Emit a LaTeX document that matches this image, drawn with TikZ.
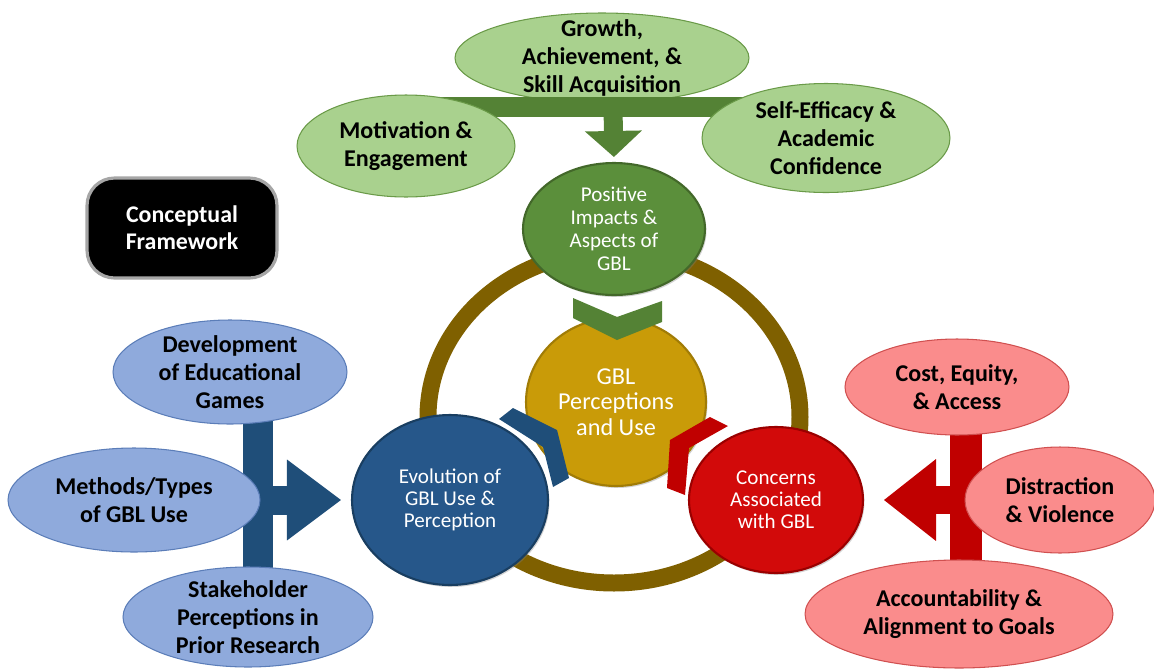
\documentclass[tikz,border=0pt]{standalone}
\usepackage{fontspec}
\setmainfont{Carlito}
\usetikzlibrary{arrows.meta,shapes.geometric,shadows}
\definecolor{gLight}{HTML}{A9D18E}
\definecolor{gLine}{HTML}{6A9A48}
\definecolor{gDark}{HTML}{548235}
\definecolor{gHub}{HTML}{5B8F3B}
\definecolor{bLight}{HTML}{8FAADC}
\definecolor{bLine}{HTML}{5B7DB8}
\definecolor{bDark}{HTML}{1F4E79}
\definecolor{bHub}{HTML}{26578A}
\definecolor{rLight}{HTML}{FA8C8C}
\definecolor{rLine}{HTML}{D05050}
\definecolor{rDark}{HTML}{C00000}
\definecolor{rHub}{HTML}{D20A0A}
\definecolor{gold}{HTML}{C99B08}
\definecolor{ringc}{HTML}{7F6000}
\tikzset{
  leaf/.style={draw, ellipse, line width=0.6pt, align=center, inner xsep=0pt, inner ysep=-1cm,
    font=\fontsize{13.7}{15.9}\selectfont\bfseries},
  gleaf/.style={leaf, fill=gLight, draw=gLine},
  bleaf/.style={leaf, fill=bLight, draw=bLine},
  rleaf/.style={leaf, fill=rLight, draw=rLine},
  hub/.style={draw, ellipse, line width=1.2pt, align=center, inner xsep=0pt, inner ysep=-1cm, text=white,
    drop shadow={shadow xshift=0.03cm, shadow yshift=-0.04cm, opacity=0.35},
    font=\fontsize{12}{12.6}\selectfont},
  frame/.style={draw=gray!70, line width=1.8pt, fill=black, rounded corners=0.55cm, align=center, text=white,
    minimum width=3.8cm, minimum height=2cm, font=\fontsize{13.6}{15.4}\selectfont\bfseries},
  ring/.style={draw=ringc, line width=0.34cm},
  gbar/.style={draw=gDark, fill=gDark},
  bbar/.style={draw=bDark, fill=bDark},
  rbar/.style={draw=rDark, fill=rDark}
}

\begin{document}
\begin{tikzpicture}[x=0.02cm, y=-0.02cm]
\useasboundingbox (0,0) rectangle (1154,670);

% ring behind the four hubs
\coordinate (ctr) at (614,417);
\draw[ring] (ctr) ellipse [x radius=186, y radius=166];

% top group
\node[gleaf, minimum width=5.88cm, minimum height=1.8cm] (grow) at (602,58) {Growth,\\Achievement, \&\\Skill Acquisition};
\node[hub, fill=gHub, draw=gDark!80!black, minimum width=3.64cm, minimum height=2.64cm,
  font=\fontsize{12}{13.1}\selectfont] (pos) at (614,229) {Positive\\Impacts \&\\Aspects of\\GBL};
\coordinate (gj) at (613,107);
\draw[gbar, line width=0.4cm] (gj -| 406,0) -- (gj -| 826,0);
\draw[gbar, line width=0.38cm, -{Triangle[width=1.14cm, length=0.52cm, line width=0pt]}, shorten >=0.1cm] (gj) -- (pos.north);
\node[gleaf, minimum width=4.36cm, minimum height=2.04cm] (mot) at (406,146) {Motivation \&\\Engagement};
\node[gleaf, minimum width=4.96cm, minimum height=2.18cm] (self) at (826,138) {Self-Efficacy \&\\Academic\\Confidence};

% centre
\node[hub, fill=gold, draw=gold!80!black, minimum width=3.6cm, minimum height=3.36cm,
  font=\fontsize{13.8}{14.5}\selectfont] (core) at (616,402) {GBL\\Perceptions\\and Use};
\fill[gDark] (573,298) -- (617,317) -- (662,301) -- (662,322) -- (617,340) -- (573,318) -- cycle;
\fill[bDark] (513,408) -- (557,430) -- (569,478) -- (553,487) -- (543,447) -- (499,419) -- cycle;
\fill[rDark] (710,417) -- (728,426) -- (689,448) -- (685,495) -- (667,488) -- (670,440) -- cycle;
\node[hub, fill=bHub, draw=bDark!80!black, minimum width=3.92cm, minimum height=3.4cm] (evo) at (450,500) {Evolution of\\GBL Use \&\\Perception};
\node[hub, fill=rHub, draw=rDark!80!black, minimum width=3.48cm, minimum height=2.92cm] (con) at (776,500) {Concerns\\Associated\\with GBL};

% left group
\coordinate (bj) at (258,500);
\draw[bbar, line width=0.62cm] (bj |- 0,372) -- (bj |- 0,617);
\draw[bbar, line width=0.58cm, -{Triangle[width=1.62cm, length=1.08cm, line width=0pt]}, shorten >=0.2cm] (bj) -- (evo.west);
\node[bleaf, minimum width=4.68cm, minimum height=2.08cm] (dev) at (230,372) {Development\\of Educational\\Games};
\node[bleaf, minimum width=5.04cm, minimum height=2.08cm] (meth) at (134,500) {Methods/Types\\of GBL Use};
\node[bleaf, minimum width=5cm, minimum height=2cm] (stake) at (248,617) {Stakeholder\\Perceptions in\\Prior Research};

% right group
\coordinate (rj) at (966,500);
\draw[rbar, line width=0.64cm] (rj |- 0,387) -- (rj |- 0,614);
\draw[rbar, line width=0.56cm, -{Triangle[width=1.64cm, length=1.04cm, line width=0pt]}, shorten >=0.4cm] (rj) -- (con.east);
\node[rleaf, minimum width=4.48cm, minimum height=1.92cm] (cost) at (957,387) {Cost, Equity,\\\& Access};
\node[rleaf, minimum width=3.8cm, minimum height=2.12cm] (dist) at (1060,500) {Distraction\\\& Violence};
\node[rleaf, minimum width=6.16cm, minimum height=2.16cm] (acc) at (959,614) {Accountability \&\\Alignment to Goals};

\node[frame] (cf) at (182,228) {Conceptual\\Framework};
\end{tikzpicture}
\end{document}
